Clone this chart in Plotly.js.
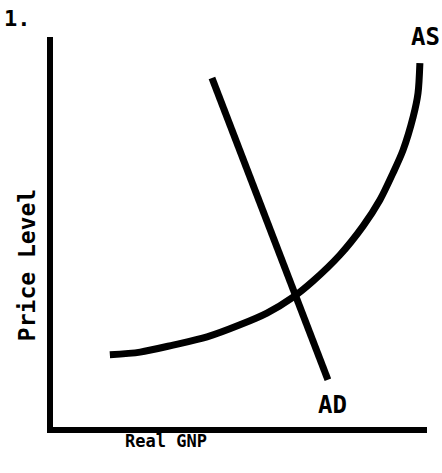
<!DOCTYPE html>
<html>
<head>
<meta charset="utf-8">
<script src="https://cdn.plot.ly/plotly-3.0.1.min.js"></script>
<style>html,body{margin:0;padding:0;background:#fff;}#chart{width:442px;height:473px;}</style>
</head>
<body>
<div id="chart"></div>
<script>
// Aggregate supply curve (Real GNP index, Price level index)
const asX = [15.2, 23.3, 32.1, 41.2, 50.0, 57.2, 64.2, 69.5, 76.7, 82.9, 87.4, 90.9, 93.6, 96.3, 97.6, 98.1];
const asY = [18.5, 19.2, 21.0, 23.1, 26.2, 29.2, 33.3, 37.4, 44.1, 51.5, 58.2, 65.1, 71.0, 79.5, 85.6, 93.3];
// Aggregate demand line
const adX = [42.5, 73.5];
const adY = [89.5, 12.1];
const labels = {as: "AS", ad: "AD", x: "Real GNP", y: "Price Level", num: "1."};

const font = "DejaVu Sans Mono, Liberation Mono, monospace";
const traces = [
  {x: asX, y: asY, mode: "lines", line: {color: "#000", width: 7, shape: "spline", smoothing: 0.8}, hoverinfo: "skip"},
  {x: adX, y: adY, mode: "lines", line: {color: "#000", width: 7}, hoverinfo: "skip"}
];
function ann(x, y, text, size, angle) {
  return {xref: "paper", yref: "paper", x: x, y: y, xanchor: "center", yanchor: "middle",
          text: "<b>" + text + "</b>", textangle: angle || 0, showarrow: false,
          font: {family: font, size: size, color: "#000"}};
}
const layout = {
  width: 442, height: 473,
  margin: {l: 53, r: 15, t: 37, b: 46},
  paper_bgcolor: "#fff", plot_bgcolor: "#fff",
  showlegend: false,
  xaxis: {range: [0, 100], showline: true, linecolor: "#000", linewidth: 6, showgrid: false, zeroline: false, showticklabels: false, ticks: ""},
  yaxis: {range: [0, 100], showline: true, linecolor: "#000", linewidth: 6, showgrid: false, zeroline: false, showticklabels: false, ticks: ""},
  annotations: [
    ann(-0.094, 1.048, labels.num, 22),
    ann(0.995, 1.0, labels.as, 24),
    ann(0.746, 0.056, labels.ad, 24),
    ann(0.302, -0.036, labels.x, 17),
    ann(-0.0695, 0.415, labels.y, 23, -90)
  ]
};
Plotly.newPlot("chart", traces, layout, {staticPlot: true, displayModeBar: false});
</script>
</body>
</html>
